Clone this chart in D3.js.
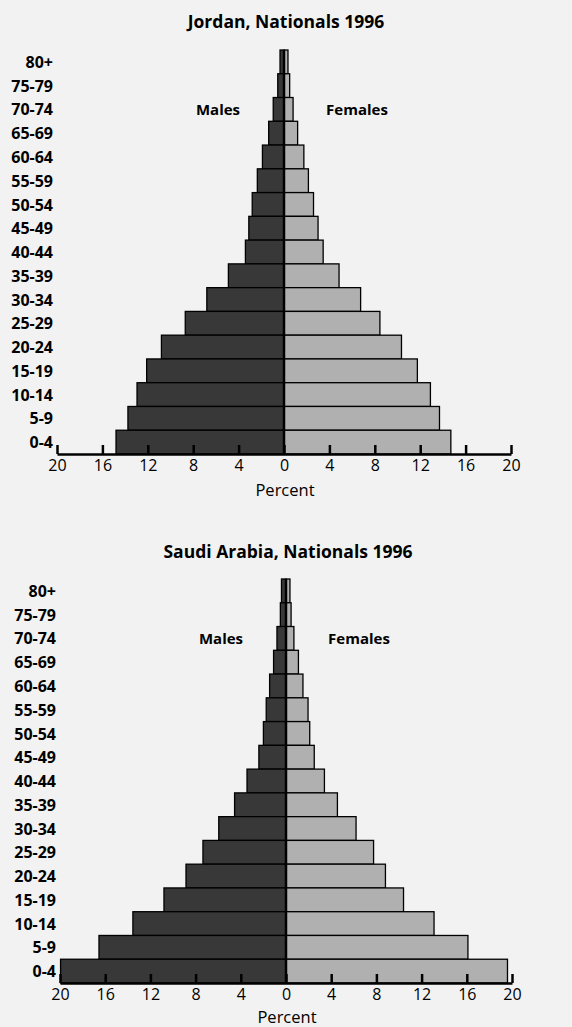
<!DOCTYPE html>
<html lang="en">
<head>
  <meta charset="UTF-8">
  <script src="https://cdnjs.cloudflare.com/ajax/libs/d3/7.8.5/d3.min.js"></script>
  <style>
    body { margin: 0; background: #f2f2f2; }
    svg { display: block; font-family: "Open Sans", "Noto Sans", sans-serif; }
  </style>
  <title>Population pyramids</title>
</head>
<body>
  <script>
    const w = 572;
    const h = 1027;

    // age groups, oldest first (top of the pyramid)
    const ageGroups = ["80+", "75-79", "70-74", "65-69", "60-64", "55-59", "50-54", "45-49",
      "40-44", "35-39", "30-34", "25-29", "20-24", "15-19", "10-14", "5-9", "0-4"];

    const jordanMales = [0.35, 0.55, 0.95, 1.35, 1.9, 2.35, 2.8, 3.1, 3.4, 4.9, 6.8, 8.7, 10.8, 12.1, 12.95, 13.75, 14.8];
    const jordanFemales = [0.35, 0.5, 0.8, 1.2, 1.75, 2.15, 2.6, 3.0, 3.45, 4.85, 6.75, 8.45, 10.35, 11.75, 12.9, 13.7, 14.7];

    const saudiMales = [0.4, 0.5, 0.8, 1.1, 1.45, 1.75, 2.0, 2.4, 3.45, 4.55, 5.95, 7.35, 8.85, 10.8, 13.55, 16.55, 19.95];
    const saudiFemales = [0.35, 0.45, 0.7, 1.1, 1.5, 1.95, 2.1, 2.5, 3.4, 4.55, 6.2, 7.75, 8.8, 10.4, 13.1, 16.1, 19.6];

    const tickValues = [-20, -16, -12, -8, -4, 0, 4, 8, 12, 16, 20];

    const svg = d3.select("body")
      .append("svg")
      .attr("width", w)
      .attr("height", h);

    function pyramid(cfg) {
      const g = svg.append("g");

      const x = d3.scaleLinear()
        .domain([-20, 20])
        .range([cfg.left, cfg.right]);

      const y = d3.scaleBand()
        .domain(ageGroups)
        .range([cfg.top, cfg.bottom]);

      g.append("text")
        .attr("x", x(0) + 2)
        .attr("y", cfg.titleY)
        .attr("text-anchor", "middle")
        .attr("font-weight", "bold")
        .attr("font-size", 17.5)
        .text(cfg.title);

      g.selectAll(".male")
        .data(ageGroups)
        .enter()
        .append("rect")
        .attr("class", "male")
        .attr("x", (d, i) => x(-cfg.males[i]))
        .attr("y", d => y(d))
        .attr("width", (d, i) => x(0) - x(-cfg.males[i]))
        .attr("height", y.bandwidth())
        .attr("fill", "#383838")
        .attr("stroke", "#000")
        .attr("stroke-width", 1.3);

      g.selectAll(".female")
        .data(ageGroups)
        .enter()
        .append("rect")
        .attr("class", "female")
        .attr("x", x(0))
        .attr("y", d => y(d))
        .attr("width", (d, i) => x(cfg.females[i]) - x(0))
        .attr("height", y.bandwidth())
        .attr("fill", "#b0b0b0")
        .attr("stroke", "#000")
        .attr("stroke-width", 1.3);

      // centre line
      g.append("line")
        .attr("x1", x(0)).attr("x2", x(0))
        .attr("y1", cfg.top).attr("y2", cfg.bottom)
        .attr("stroke", "#000")
        .attr("stroke-width", 2.5);

      g.selectAll(".age")
        .data(ageGroups)
        .enter()
        .append("text")
        .attr("class", "age")
        .attr("x", cfg.labelX)
        .attr("y", d => y(d) + y.bandwidth() / 2)
        .attr("dy", "0.38em")
        .attr("text-anchor", "end")
        .attr("font-weight", "bold")
        .attr("font-size", 16)
        .text(d => d);

      const legendY = y("70-74") + y.bandwidth() / 2;
      g.append("text")
        .attr("x", cfg.malesX)
        .attr("y", legendY)
        .attr("dy", "0.35em")
        .attr("text-anchor", "middle")
        .attr("font-weight", "bold")
        .attr("font-size", 15)
        .text("Males");
      g.append("text")
        .attr("x", cfg.femalesX)
        .attr("y", legendY)
        .attr("dy", "0.35em")
        .attr("text-anchor", "middle")
        .attr("font-weight", "bold")
        .attr("font-size", 15)
        .text("Females");

      const xAxis = d3.axisBottom(x)
        .tickValues(tickValues)
        .tickSize(-9)
        .tickSizeOuter(0)
        .tickPadding(6)
        .tickFormat(d => Math.abs(d));

      const ax = g.append("g")
        .attr("transform", "translate(0," + cfg.bottom + ")")
        .call(xAxis);
      ax.select(".domain").attr("stroke-width", 2.5);
      ax.selectAll(".tick line").attr("stroke-width", 2.5);
      ax.selectAll(".tick text")
        .attr("font-size", 16)
        .attr("font-family", "\"Open Sans\", sans-serif")
        .attr("fill", "#000");

      g.append("text")
        .attr("x", x(0) + 1)
        .attr("y", cfg.bottom + cfg.percentDy)
        .attr("text-anchor", "middle")
        .attr("font-size", 16.5)
        .text("Percent");
    }

    pyramid({
      title: "Jordan, Nationals 1996",
      males: jordanMales, females: jordanFemales,
      titleY: 28, top: 50, bottom: 454,
      left: 57, right: 511, labelX: 53,
      malesX: 218, femalesX: 357, percentDy: 42
    });

    pyramid({
      title: "Saudi Arabia, Nationals 1996",
      males: saudiMales, females: saudiFemales,
      titleY: 558, top: 579, bottom: 983,
      left: 60, right: 512, labelX: 56,
      malesX: 221, femalesX: 359, percentDy: 40
    });
  </script>
</body>
</html>
